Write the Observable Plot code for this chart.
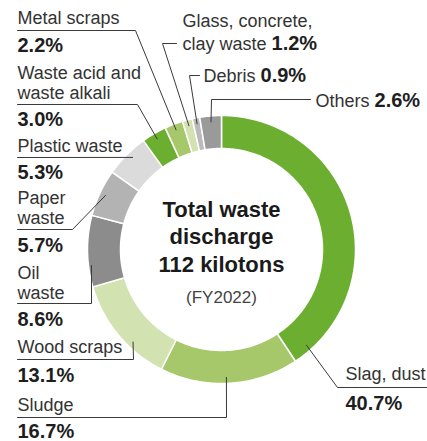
<!DOCTYPE html>
<html><head><meta charset="utf-8">
<script src="https://cdn.jsdelivr.net/npm/d3@7"></script>
<script src="https://cdn.jsdelivr.net/npm/@observablehq/plot@0.6"></script>
<style>html,body{margin:0;padding:0;background:#fff}svg{display:block}</style>
</head><body><div id="chart"></div>
<script>
// ---- data ----
const categories = ["Slag, dust","Sludge","Wood scraps","Oil waste","Paper waste","Plastic waste","Waste acid and waste alkali","Metal scraps","Glass, concrete, clay waste","Debris","Others"];
const shares = [40.7,16.7,13.1,8.6,5.7,5.3,3.0,2.2,1.2,0.9,2.6];
const valueLabels = ["40.7%","16.7%","13.1%","8.6%","5.7%","5.3%","3.0%","2.2%","1.2%","0.9%","2.6%"];
const nameLines = [["Slag, dust"],["Sludge"],["Wood scraps"],["Oil","waste"],["Paper","waste"],["Plastic waste"],["Waste acid and","waste alkali"],["Metal scraps"],["Glass, concrete,","clay waste"],["Debris"],["Others"]];
const colors = ["#6cae2f","#a6c86b","#d2e2b1","#8c8c8c","#b3b3b3","#dbdbdb","#6cae2f","#a6c86b","#d2e2b1","#bababa","#9a9a9a"];
const centerLines = ["Total waste","discharge","112 kilotons"];
const yearLabel = "(FY2022)";

// ---- layout ----
const cx = 221, cy = 249, rOuter = 134, rInner = 101, rLead = 128;
const layout = [
  {x:345, ys:[379], vy:409, ang:138.4, path:[[337,387],[427,387]]},
  {x:17, ys:[410], vy:437, ang:177.8, path:[[226,417],[17,417]]},
  {x:17, ys:[352], vy:381, ang:223.7, path:[[133,359],[17,359]]},
  {x:17, ys:[278,298], vy:325, ang:263, r:131, path:[[91,303],[17,303]]},
  {x:17, ys:[203,223], vy:251, ang:295, path:[[72,229],[17,229]]},
  {x:17, ys:[151], vy:178, ang:316, path:[[17,157]]},
  {x:17, ys:[78,98], vy:125, ang:329.8, path:[[137,104],[17,104]]},
  {x:17, ys:[23], vy:51, ang:339.2, path:[[135,30],[17,30]]},
  {x:182, ys:[26,49], vy:null, ang:345.25, path:[[162,43],[176,43]]},
  {x:203, ys:[81], vy:null, ang:349, path:[[189,75],[199,75]]},
  {x:315, ys:[106], vy:null, ang:355.3, path:[[211,99],[310,99]]}
];

const FONT = "'Liberation Sans', Arial, Helvetica, sans-serif";
const ctx = document.createElement("canvas").getContext("2d");
function tw(s, size, weight) { ctx.font = `${weight} ${size}px ${FONT}`; return ctx.measureText(s).width; }

// ring polygons
const total = d3.sum(shares);
let acc = 0;
const ringPts = [];
categories.forEach((cat, i) => {
  const a0 = acc / total * 360; acc += shares[i]; const a1 = acc / total * 360;
  const n = Math.max(2, Math.ceil(a1 - a0));
  const pts = [];
  for (let k = 0; k <= n; k++) { const a = (a0 + (a1 - a0) * k / n) * Math.PI / 180; pts.push({cat, x: cx + rOuter * Math.sin(a), y: cy - rOuter * Math.cos(a)}); }
  for (let k = n; k >= 0; k--) { const a = (a0 + (a1 - a0) * k / n) * Math.PI / 180; pts.push({cat, x: cx + rInner * Math.sin(a), y: cy - rInner * Math.cos(a)}); }
  pts.push({...pts[0]});
  ringPts.push(...pts);
});

// leaders
const leaderPts = [];
layout.forEach((L, i) => {
  const r = L.r || rLead, a = L.ang * Math.PI / 180;
  leaderPts.push({cat: categories[i], x: cx + r * Math.sin(a), y: cy - r * Math.cos(a)});
  L.path.forEach(([x, y]) => leaderPts.push({cat: categories[i], x, y}));
});

// texts
const nameTexts = [], valueTexts = [];
layout.forEach((L, i) => {
  nameLines[i].forEach((t, j) => nameTexts.push({x: L.x, y: L.ys[j], text: t}));
  if (L.vy != null) valueTexts.push({x: L.x, y: L.vy, text: valueLabels[i]});
  else {
    const last = nameLines[i][nameLines[i].length - 1];
    valueTexts.push({x: L.x + tw(last + " ", 18, "normal"), y: L.ys[L.ys.length - 1], text: valueLabels[i]});
  }
});
const centerTexts = centerLines.map((t, j) => ({x: cx, y: 216 + j * 27.5, text: t}));

const chart = Plot.plot({
  width: 427, height: 441, margin: 0,
  x: {domain: [0, 427], range: [0, 427], axis: null},
  y: {domain: [0, 441], range: [0, 441], axis: null},
  color: {domain: categories, range: colors},
  style: {fontFamily: FONT, background: "white"},
  marks: [
    Plot.line(ringPts, {x: "x", y: "y", z: "cat", fill: "cat", stroke: "white", strokeWidth: 1.5, curve: "linear"}),
    Plot.line(leaderPts, {x: "x", y: "y", z: "cat", stroke: "#3a3a3a", strokeWidth: 1, curve: "linear"}),
    Plot.text(nameTexts, {x: "x", y: "y", text: "text", textAnchor: "start", lineAnchor: "bottom", fontSize: 18, fill: "#333"}),
    Plot.text(valueTexts, {x: "x", y: "y", text: "text", textAnchor: "start", lineAnchor: "bottom", fontSize: 20, fontWeight: "bold", fill: "#1e1e1e"}),
    Plot.text(centerTexts, {x: "x", y: "y", text: "text", textAnchor: "middle", lineAnchor: "bottom", fontSize: 22, fontWeight: "bold", fill: "#1a1a1a"}),
    Plot.text([{x: cx, y: 302, text: yearLabel}], {x: "x", y: "y", text: "text", textAnchor: "middle", lineAnchor: "bottom", fontSize: 17, fill: "#444"})
  ]
});
document.getElementById("chart").appendChild(chart);
</script>
</body></html>
